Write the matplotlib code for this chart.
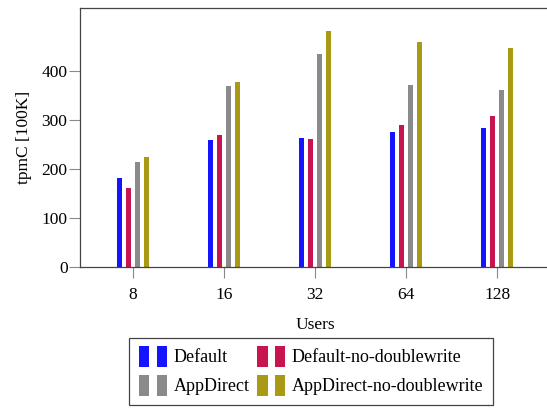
import numpy as np
import matplotlib
matplotlib.use("Agg")
import matplotlib.pyplot as plt
from matplotlib.patches import Rectangle
from matplotlib.legend_handler import HandlerBase

users = ["8", "16", "32", "64", "128"]
series = ["Default", "Default-no-doublewrite", "AppDirect", "AppDirect-no-doublewrite"]
default = [182, 260, 264, 275, 284]
default_nodw = [162, 270, 261, 290, 309]
appdirect = [215, 370, 436, 371, 362]
appdirect_nodw = [226, 378, 483, 459, 448]
colors = ["#1414ff", "#c8144f", "#8a8a8a", "#a89a14"]

plt.rcParams["font.family"] = ["Liberation Serif", "DejaVu Serif"]
plt.rcParams["font.size"] = 12.5


class TwoBarHandler(HandlerBase):
    def create_artists(self, legend, orig_handle, xdescent, ydescent,
                       width, height, fontsize, trans):
        c = orig_handle.get_facecolor()
        w = 0.36 * width
        h = 1.4 * height
        y0 = -ydescent - 0.25 * height
        r1 = Rectangle((-xdescent, y0), w, h, facecolor=c, edgecolor="none", transform=trans)
        r2 = Rectangle((-xdescent + 0.64 * width, y0), w, h, facecolor=c, edgecolor="none", transform=trans)
        return [r1, r2]


fig = plt.figure(figsize=(5.47, 4.08), dpi=100)
ax = fig.add_axes([0.1463, 0.3449, 0.8592, 0.6355])

x = np.arange(len(users))
step = 0.099
width = 0.052
bars = []
for i, (vals, col, name) in enumerate(zip([default, default_nodw, appdirect, appdirect_nodw], colors, series)):
    b = ax.bar(x + (i - 1.5) * step, vals, width=width, color=col, label=name, zorder=2)
    bars.append(b)

ax.set_xlim(-0.582, 4.582)
ax.set_ylim(0, 529)
ax.set_xticks(x)
ax.set_xticklabels(users)
ax.set_yticks([0, 100, 200, 300, 400])
ax.tick_params(direction="out", length=8, width=0.8, color="#888888", pad=1)
ax.tick_params(axis="x", pad=6)
for s in ax.spines.values():
    s.set_color("#444444")
    s.set_linewidth(0.9)

ax.set_xlabel("Users", labelpad=10)
ax.set_ylabel("tpmC [100K]", labelpad=7)

# pgfplots fills the legend row by row
order = [0, 2, 1, 3]
leg = fig.legend(handles=[bars[i].patches[0] for i in order], labels=[series[i] for i in order],
                 handler_map={Rectangle: TwoBarHandler()},
                 loc="upper center", bbox_to_anchor=(0.569, 0.171), ncol=2,
                 fancybox=False, edgecolor="#444444", framealpha=1, fontsize=13,
                 handlelength=1.55, handleheight=0.9, handletextpad=0.35,
                 columnspacing=0.45, labelspacing=0.62, borderpad=0.55,
                 borderaxespad=0)
leg.get_frame().set_linewidth(0.9)

fig.savefig("out.png", dpi=100)
